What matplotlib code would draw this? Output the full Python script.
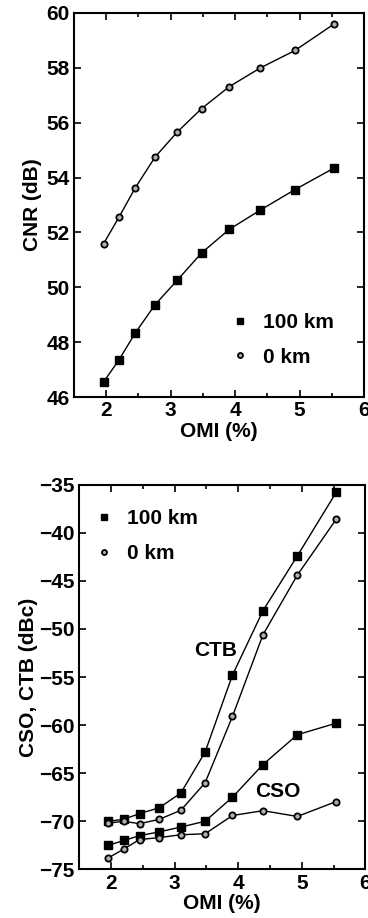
import numpy as np
import matplotlib.pyplot as plt
from matplotlib.ticker import MultipleLocator

plt.rcParams['font.family'] = ['Liberation Sans', 'DejaVu Sans']
plt.rcParams['font.weight'] = 'bold'

# OMI (%) values shared by both panels
omi = [1.96, 2.2, 2.45, 2.76, 3.1, 3.48, 3.91, 4.39, 4.93, 5.54]

# CNR (dB)
cnr_100km = [46.55, 47.36, 48.33, 49.37, 50.25, 51.25, 52.11, 52.81, 53.56, 54.35]
cnr_0km = [51.59, 52.56, 53.62, 54.75, 55.65, 56.51, 57.31, 57.99, 58.63, 59.6]

# CTB / CSO (dBc)
ctb_100km = [-70.0, -69.8, -69.2, -68.6, -67.05, -62.8, -54.8, -48.1, -42.4, -35.8]
ctb_0km = [-70.2, -70.0, -70.25, -69.8, -68.85, -66.0, -59.1, -50.6, -44.4, -38.6]
cso_100km = [-72.5, -72.0, -71.5, -71.1, -70.6, -70.0, -67.5, -64.1, -61.0, -59.8]
cso_0km = [-73.8, -72.9, -71.9, -71.7, -71.4, -71.3, -69.4, -68.9, -69.5, -67.95]

FS = 15
sq = dict(color='black', lw=1.0, marker='s', ms=6, mfc='black', mec='black')
ci = dict(color='black', lw=1.0, marker='o', ms=4.5, mfc='#b0b0b0', mec='black', mew=1.3)

fig = plt.figure(figsize=(3.68, 9.18), dpi=100)


def style_axes(ax, ymajor):
    ax.set_xlim(1.5, 6)
    ax.xaxis.set_major_locator(MultipleLocator(1))
    ax.xaxis.set_minor_locator(MultipleLocator(0.5))
    ax.yaxis.set_major_locator(MultipleLocator(ymajor))
    ax.tick_params(which='both', direction='in', top=True, right=True,
                   labelsize=FS, width=1.2, pad=3)
    ax.tick_params(which='major', length=5)
    ax.tick_params(which='minor', length=3)
    for s in ax.spines.values():
        s.set_linewidth(1.5)
    for lbl in ax.get_xticklabels() + ax.get_yticklabels():
        lbl.set_fontweight('bold')
    ax.set_xlabel('OMI (%)', fontsize=FS, fontweight='bold', labelpad=1)


# top panel: CNR
ax1 = fig.add_axes([0.201, 0.5675, 0.788, 0.4185])
ax1.plot(omi, cnr_100km, label='100 km', **sq)
ax1.plot(omi, cnr_0km, label='0 km', **ci)
ax1.set_ylim(46, 60)
style_axes(ax1, 2)
ax1.set_ylabel('CNR (dB)', fontsize=FS, fontweight='bold', labelpad=3)
leg1 = ax1.legend(loc='lower right', frameon=False, fontsize=FS, handlelength=0.6,
                  handletextpad=0.8, markerscale=0.8, bbox_to_anchor=(0.96, 0.03),
                  labelspacing=0.75)
for h in leg1.get_lines():
    h.set_linestyle('none')

# bottom panel: CSO, CTB
ax2 = fig.add_axes([0.215, 0.053, 0.778, 0.419])
ax2.plot(omi, ctb_100km, label='100 km', **sq)
ax2.plot(omi, ctb_0km, label='0 km', **ci)
ax2.plot(omi, cso_100km, **sq)
ax2.plot(omi, cso_0km, **ci)
ax2.set_ylim(-75, -35)
style_axes(ax2, 5)
ax2.set_ylabel('CSO, CTB (dBc)', fontsize=FS, fontweight='bold', labelpad=1)
ax2.text(3.64, -52.2, 'CTB', fontsize=FS, fontweight='bold', ha='center', va='center')
ax2.text(4.62, -66.9, 'CSO', fontsize=FS, fontweight='bold', ha='center', va='center')
leg2 = ax2.legend(loc='upper left', frameon=False, fontsize=FS, handlelength=0.6,
                  handletextpad=0.8, markerscale=0.8, bbox_to_anchor=(0.0, 0.985),
                  labelspacing=0.75)
for h in leg2.get_lines():
    h.set_linestyle('none')

fig.savefig('out.png', dpi=100)
